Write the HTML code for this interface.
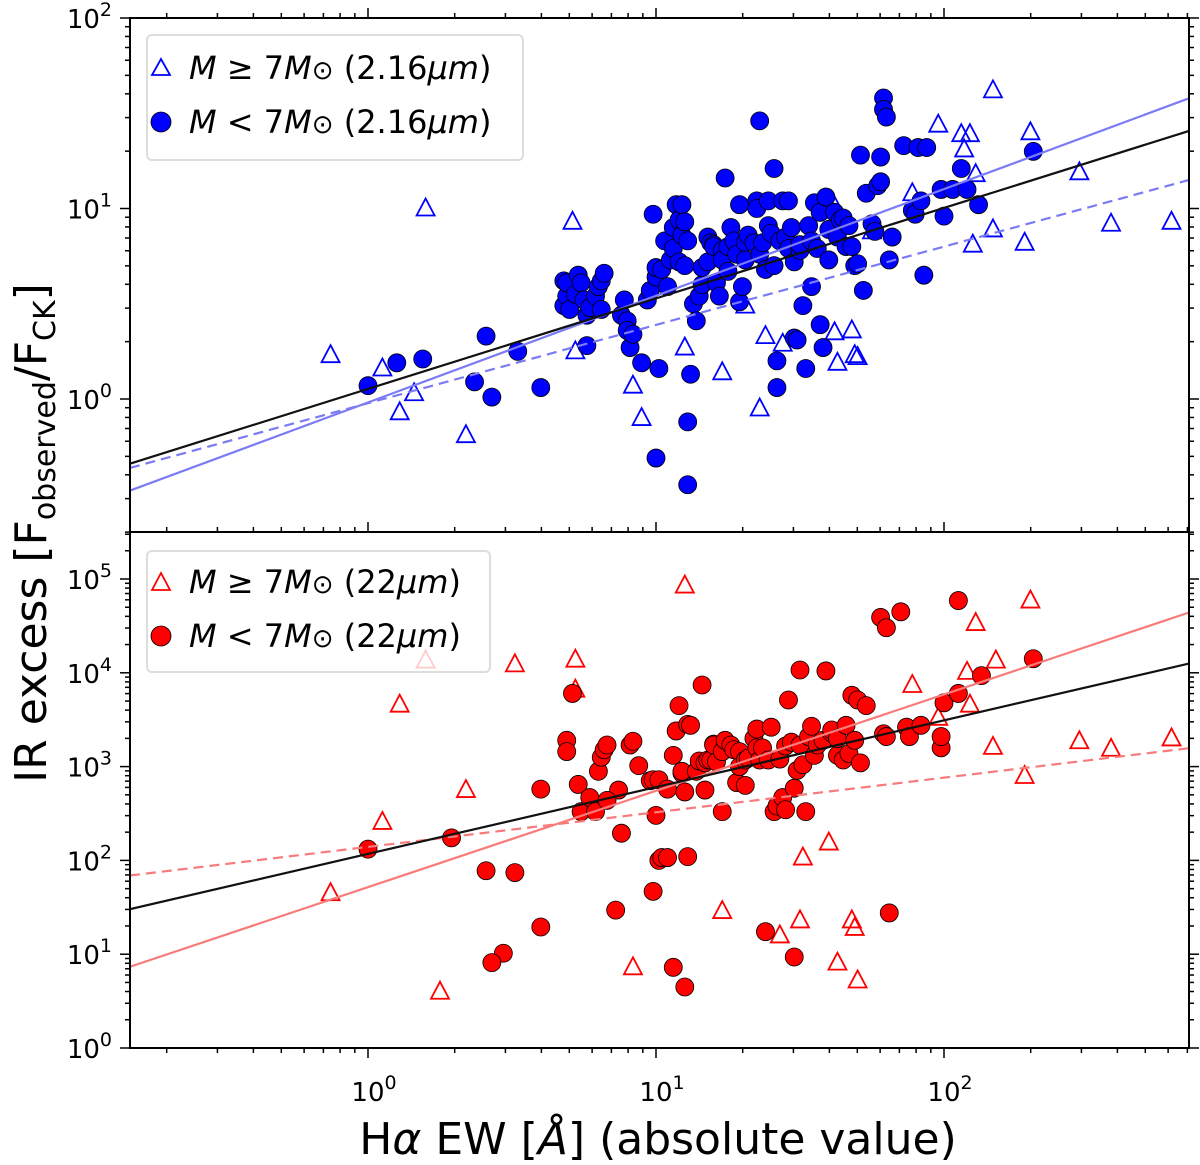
<!DOCTYPE html>
<html><head><meta charset="utf-8"><style>
body{margin:0;background:#fff}
svg{display:block;font-family:"DejaVu Sans","Liberation Sans",sans-serif}
</style></head><body>
<svg id="chart" width="1200" height="1165" viewBox="0 0 1200 1165">
<g id="top-panel"></g>
<g id="bot-panel"></g>
<g id="axes"></g>
</svg>
<script>
// log10 of Halpha EW, log10 of IR excess
const topCircLogEW=[0.00,0.10,0.19,0.37,0.41,0.43,0.52,0.60,0.68,0.68,0.69,0.69,0.70,0.72,0.73,0.74,0.75,0.76,0.76,0.77,0.79,0.80,0.81,0.81,0.82,0.88,0.89,0.90,0.90,0.91,0.92,0.95,0.97,0.98,0.99,1.00,1.00,1.00,1.01,1.02,1.03,1.04,1.05,1.06,1.06,1.07,1.08,1.08,1.09,1.09,1.10,1.10,1.11,1.11,1.11,1.12,1.13,1.14,1.15,1.16,1.16,1.18,1.18,1.19,1.20,1.20,1.21,1.22,1.23,1.23,1.24,1.25,1.25,1.26,1.27,1.28,1.29,1.29,1.30,1.31,1.31,1.32,1.34,1.35,1.35,1.36,1.36,1.37,1.38,1.39,1.39,1.40,1.41,1.41,1.42,1.42,1.43,1.44,1.45,1.46,1.46,1.47,1.48,1.48,1.49,1.50,1.50,1.51,1.52,1.53,1.54,1.54,1.55,1.56,1.57,1.57,1.58,1.59,1.60,1.60,1.62,1.63,1.64,1.65,1.66,1.67,1.68,1.69,1.70,1.71,1.72,1.73,1.75,1.76,1.77,1.78,1.78,1.79,1.79,1.80,1.81,1.82,1.86,1.89,1.90,1.91,1.92,1.93,1.94,1.99,2.00,2.03,2.06,2.08,2.12,2.31];
const topCircLogIR=[0.07,0.19,0.21,0.09,0.33,0.01,0.25,0.06,0.49,0.62,0.54,0.61,0.47,0.55,0.65,0.61,0.52,0.44,0.28,0.48,0.54,0.59,0.62,0.47,0.66,0.44,0.52,0.41,0.36,0.27,0.34,0.19,0.52,0.57,0.97,0.64,0.69,-0.31,0.16,0.68,0.83,0.59,0.73,0.79,0.90,1.02,0.72,0.94,1.02,0.86,0.93,0.70,-0.12,0.83,-0.45,0.13,0.50,0.41,0.54,0.60,0.69,0.72,0.85,0.82,0.81,0.80,0.61,0.54,0.78,0.73,1.16,0.80,0.67,0.90,0.83,0.76,1.02,0.51,0.59,0.82,0.73,0.86,0.82,1.04,1.00,1.46,0.76,0.82,0.68,1.04,0.91,0.87,0.70,1.21,0.06,0.20,0.83,1.04,0.85,0.79,1.04,0.90,0.72,0.32,0.31,0.78,0.81,0.49,0.16,0.91,0.83,0.59,1.03,0.79,0.98,0.39,0.27,1.06,0.89,0.73,0.98,0.85,0.94,0.95,0.80,0.91,0.80,0.70,0.71,1.28,0.57,1.08,0.92,0.88,1.12,1.14,1.27,1.58,1.52,1.48,0.73,0.85,1.33,0.99,0.97,1.32,1.04,0.65,1.32,1.10,0.96,1.10,1.21,1.10,1.02,1.30];
const topTriLogEW=[-0.13,0.05,0.11,0.16,0.20,0.34,0.71,0.72,0.95,0.92,1.10,1.23,1.31,1.36,1.38,1.44,1.62,1.62,1.63,1.68,1.69,1.70,1.75,1.89,1.98,2.06,2.07,2.09,2.11,2.10,2.17,2.17,2.28,2.30,2.47,2.58,2.79];
const topTriLogIR=[0.23,0.16,-0.07,0.03,1.00,-0.19,0.93,0.25,-0.10,0.07,0.27,0.14,0.49,-0.05,0.33,0.29,1.01,0.35,0.19,0.36,0.23,0.22,0.88,1.08,1.44,1.39,1.31,1.39,1.18,0.81,1.62,0.89,0.82,1.40,1.19,0.92,0.93];
const botCircLogEW=[0.00,0.29,0.41,0.47,0.51,0.60,0.60,0.69,0.71,0.69,0.73,0.74,0.77,0.79,0.80,0.81,0.82,0.83,0.87,0.88,0.91,0.92,0.94,0.98,0.99,0.99,1.00,1.01,1.01,1.02,1.04,1.04,1.06,1.07,1.08,1.09,1.09,1.10,1.11,1.11,1.12,1.14,1.15,1.16,1.17,1.17,1.18,1.19,1.20,1.20,1.21,1.23,1.23,1.24,1.26,1.27,1.28,1.29,1.29,1.31,1.31,1.32,1.34,1.35,1.35,1.36,1.37,1.38,1.39,1.40,1.41,1.42,1.43,1.44,1.45,1.45,1.46,1.47,1.48,1.48,1.49,1.50,1.50,1.51,1.52,1.53,1.54,1.55,1.56,1.58,1.59,1.61,1.61,1.63,1.63,1.65,1.66,1.67,1.68,1.69,1.70,1.71,1.73,1.78,1.79,1.80,1.80,1.81,1.85,1.87,1.88,1.92,1.99,1.99,2.00,2.05,2.05,2.13,2.31,0.83,0.86,1.06,1.10,0.43];
const botCircLogIR=[2.12,2.24,1.89,1.01,1.87,1.29,2.76,3.28,3.78,3.16,2.81,2.52,2.67,2.52,2.95,3.10,3.18,3.23,2.75,2.29,3.23,3.27,3.01,2.85,2.86,1.67,2.48,2.86,2.00,2.03,2.03,2.76,3.12,3.38,3.65,2.93,2.95,2.73,2.04,3.45,3.44,2.95,3.06,3.87,2.75,3.04,3.07,3.07,3.24,3.23,3.05,3.16,2.52,3.28,3.23,3.18,2.83,3.16,3.00,3.07,2.80,3.09,3.30,3.40,3.20,3.07,3.20,1.24,3.07,3.42,2.52,2.58,3.08,2.67,3.22,2.54,3.71,3.26,2.77,0.97,2.96,3.23,4.03,3.02,2.52,3.32,3.43,3.12,3.23,3.28,4.02,3.36,3.39,3.12,3.30,3.07,3.44,3.14,3.76,3.28,3.71,3.04,3.65,4.59,3.35,4.48,3.32,1.44,4.65,3.42,3.32,3.44,3.20,3.32,3.68,4.77,3.78,3.97,4.15,2.64,1.47,0.86,0.65,0.91];
const botTriLogEW=[-0.13,0.05,0.11,0.20,0.25,0.34,0.51,0.72,0.72,0.92,1.10,1.23,1.43,1.50,1.51,1.60,1.63,1.68,1.69,1.70,1.89,1.98,2.08,2.09,2.11,2.18,2.17,2.28,2.30,2.47,2.58,2.79];
const botTriLogIR=[1.65,2.41,3.66,4.13,0.60,2.75,4.09,4.14,3.82,0.86,4.93,1.46,1.20,1.36,2.03,2.19,0.91,1.36,1.28,0.72,3.87,3.52,4.01,3.66,4.53,4.13,3.21,2.90,4.77,3.27,3.19,3.30];
// fit lines: [slope, intercept] in log-log
const topFitAll=[0.475,0.053], topFitLow=[0.560,-0.018], topFitHigh=[0.411,-0.022];
const botFitAll=[0.712,2.069], botFitLow=[1.027,1.715], botFitHigh=[0.369,2.144];
const xTickExp=[0,1,2], topYTickExp=[0,1,2], botYTickExp=[0,1,2,3,4,5];

const NS='http://www.w3.org/2000/svg';
const L=130,R=1189,T=18,M=532,B=1048;
const X0=368,DEC=288;
const sx=v=>X0+v*DEC;
const xMin=(L-X0)/DEC, xMax=(R-X0)/DEC;
const topY0=399,topDec=190.5, botY0=1048,botDec=93.8;
const syT=v=>topY0-v*topDec, syB=v=>botY0-v*botDec;
function mk(tag,attrs,parent){const e=document.createElementNS(NS,tag);for(const k in attrs)e.setAttribute(k,attrs[k]);parent.appendChild(e);return e;}
const topG=document.getElementById('top-panel'), botG=document.getElementById('bot-panel'), axG=document.getElementById('axes');

function clipFor(id,y1,y2){const d=mk('clipPath',{id:id},document.getElementById('chart'));mk('rect',{x:L,y:y1,width:R-L,height:y2-y1},d);}
clipFor('ct',T,M);clipFor('cb',M,B);

function fit(g,f,sy,color,dash,clip,name){
 const l=mk('line',{x1:sx(xMin),y1:sy(f[1]+f[0]*xMin),x2:sx(xMax),y2:sy(f[1]+f[0]*xMax),stroke:color,'stroke-width':2.2,'clip-path':'url(#'+clip+')'},g);
 if(dash)l.setAttribute('stroke-dasharray','10,6');
 
 
}
function tris(g,xs,ys,sy,color,clip,name){
 xs.forEach((v,i)=>{const cx=sx(v),cy=sy(ys[i]);
  const p=mk('polygon',{points:`${cx},${cy-10} ${cx-9},${cy+7} ${cx+9},${cy+7}`,fill:'none',stroke:color,'stroke-width':1.8,'clip-path':'url(#'+clip+')'},g);
  
  });
}
function circs(g,xs,ys,sy,color,clip,name){
 xs.forEach((v,i)=>{const c=mk('circle',{cx:sx(v),cy:sy(ys[i]),r:9,fill:color,stroke:'#000','stroke-width':0.8,'clip-path':'url(#'+clip+')'},g);
  
  });
}
tris(topG,topTriLogEW,topTriLogIR,syT,'#0000ff','ct','high-mass-point-2um');
circs(topG,topCircLogEW,topCircLogIR,syT,'#0000ff','ct','low-mass-point-2um');
fit(topG,topFitLow,syT,'#7b7bf5',false,'ct','fit-line-blue-solid');
fit(topG,topFitHigh,syT,'#7b7bf5',true,'ct','fit-line-blue-dashed');
fit(topG,topFitAll,syT,'#111',false,'ct','fit-line-all-top');
tris(botG,botTriLogEW,botTriLogIR,syB,'#ff0000','cb','high-mass-point-22um');
circs(botG,botCircLogEW,botCircLogIR,syB,'#ff0000','cb','low-mass-point-22um');
fit(botG,botFitLow,syB,'#f77b7b',false,'cb','fit-line-red-solid');
fit(botG,botFitHigh,syB,'#f77b7b',true,'cb','fit-line-red-dashed');
fit(botG,botFitAll,syB,'#111',false,'cb','fit-line-all-bottom');

[[T,M],[M,B]].forEach(([a,b])=>mk('rect',{x:L,y:a,width:R-L,height:b-a,fill:'none',stroke:'#000','stroke-width':2},axG));
function xticks(y,dir){
 for(let d=-1;d<=2;d++)for(let k=1;k<=9;k++){const v=d+Math.log10(k);if(v<xMin||v>xMax)continue;
  const len=k===1?10:5;mk('line',{x1:sx(v),x2:sx(v),y1:y,y2:y+dir*len,stroke:'#000','stroke-width':1.5},axG);}
}
xticks(B,1);xticks(M,-1);xticks(T,-1);
function yticks(sy,y1,y2,lo,hi){
 for(let d=lo;d<=hi;d++)for(let k=1;k<=9;k++){const v=d+Math.log10(k);const y=sy(v);if(y<y1-0.5||y>y2+0.5)continue;
  const len=k===1?10:5;
  mk('line',{x1:L,x2:L-len,y1:y,y2:y,stroke:'#000','stroke-width':1.5},axG);
  mk('line',{x1:R,x2:R+len,y1:y,y2:y,stroke:'#000','stroke-width':1.5},axG);}
}
yticks(syT,T,M,-1,2);yticks(syB,M,B,0,5);
function powLabel(x,y,e,anchor,name){
 const t=mk('text',{x:x,y:y,'font-size':26,'text-anchor':anchor,fill:'#000'},axG);
 t.textContent='10';const s=mk('tspan',{dy:-12,'font-size':19},t);s.textContent=String(e);
 
 
}
xTickExp.forEach(e=>powLabel(sx(e)+6,1101,e,'middle','x-tick-label'));
topYTickExp.forEach(e=>powLabel(112,syT(e)+10,e,'end','y-tick-label-top'));
botYTickExp.forEach(e=>powLabel(112,syB(e)+10,e,'end','y-tick-label-bottom'));
</script>
<svg style="position:absolute;left:0;top:0" width="1200" height="1165">
<g font-family="DejaVu Sans, Liberation Sans, sans-serif">
<text x="658" y="1154" font-size="44" text-anchor="middle">H<tspan font-style="italic">α</tspan> EW [<tspan font-style="italic">Å</tspan>] (absolute value)</text>
<text transform="translate(46,533) rotate(-90)" font-size="44" text-anchor="middle">IR excess [F<tspan font-size="30" dy="9">observed</tspan><tspan dy="-9">/F</tspan><tspan font-size="30" dy="9">CK</tspan><tspan dy="-9">]</tspan></text>
<g>
<rect x="147" y="35" width="376" height="125" rx="5" fill="#fff" fill-opacity="0.8" stroke="#ddd" stroke-width="2"/>
<polygon points="161,59 152,75 170,75" fill="none" stroke="#0000ff" stroke-width="1.8"/>
<text x="189" y="79" font-size="32"><tspan font-style="italic">M</tspan> ≥ 7<tspan font-style="italic">M</tspan><tspan font-size="26">⊙</tspan> (2.16<tspan font-style="italic">μm</tspan>)</text>
<circle cx="161" cy="122" r="10" fill="#0000ff" stroke="#000" stroke-width="0.8"/>
<text x="189" y="133" font-size="32"><tspan font-style="italic">M</tspan> &lt; 7<tspan font-style="italic">M</tspan><tspan font-size="26">⊙</tspan> (2.16<tspan font-style="italic">μm</tspan>)</text>
</g>
<g>
<rect x="147" y="551" width="343" height="121" rx="5" fill="#fff" fill-opacity="0.8" stroke="#ddd" stroke-width="2"/>
<polygon points="161,573 152,590 170,590" fill="none" stroke="#ff0000" stroke-width="1.8"/>
<text x="189" y="593" font-size="32"><tspan font-style="italic">M</tspan> ≥ 7<tspan font-style="italic">M</tspan><tspan font-size="26">⊙</tspan> (22<tspan font-style="italic">μm</tspan>)</text>
<circle cx="161" cy="636" r="10" fill="#ff0000" stroke="#000" stroke-width="0.8"/>
<text x="189" y="647" font-size="32"><tspan font-style="italic">M</tspan> &lt; 7<tspan font-style="italic">M</tspan><tspan font-size="26">⊙</tspan> (22<tspan font-style="italic">μm</tspan>)</text>
</g>
</g>
</svg>
</body></html>
